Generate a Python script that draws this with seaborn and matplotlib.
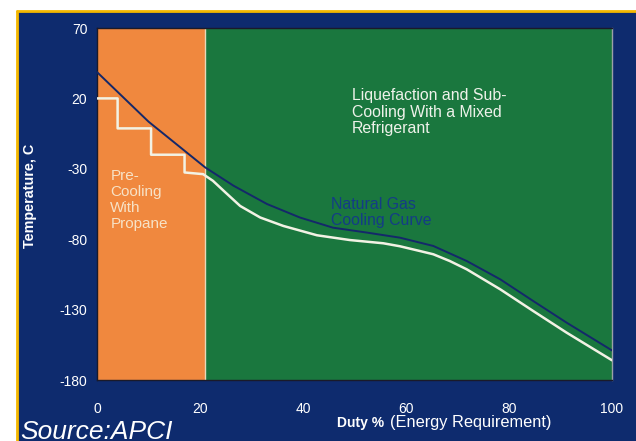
import matplotlib
matplotlib.use("Agg")
import matplotlib.pyplot as plt
import seaborn as sns
import pandas as pd
from matplotlib.patches import Rectangle
from matplotlib.lines import Line2D

# ---- data ----
x_ticks = [0, 20, 40, 60, 80, 100]
y_ticks = [70, 20, -30, -80, -130, -180]

precool_end = 21

gas_duty = [0, 10, 21, 26.5, 33, 39.4, 45.8, 52.4, 58.8, 65.3, 71.8, 78.3, 84.7, 91.2, 100]
gas_temp = [38.7, 3.5, -29, -42, -55, -64.6, -71.8, -75.3, -78.9, -84.8, -95.5, -108.5, -123.9, -139.3, -159]

ref_duty = [0, 4, 4, 10.5, 10.5, 17, 17, 20.6, 22.5, 25, 27.8, 31.7, 36.2, 42.7, 49.1, 55.6, 58.8,
            62.7, 65.3, 68.5, 71.8, 78.3, 84.7, 91.2, 100]
ref_temp = [20, 20, -1.3, -1.3, -20, -20, -32.6, -33.8, -38.5, -47, -56.4, -64.6, -70.6, -77.2, -80.6,
            -82.9, -85, -88.4, -90.7, -95.5, -101.4, -115.6, -131, -146.4, -166]

# ---- style ----
sns.set_style("white")
plt.rcParams['font.family'] = ['Liberation Sans', 'DejaVu Sans']
plt.rcParams['axes.unicode_minus'] = False

NAVY = '#0e2b6e'
ORANGE = '#f0883e'
GREEN = '#1a773e'
GOLD = '#f5b800'

W, H = 636, 441
fig = plt.figure(figsize=(W / 100, H / 100), dpi=100, facecolor='white')

# navy background with gold border on top/left
fig.patches.append(Rectangle((17 / W, 0), 1 - 17 / W, (H - 11) / H, transform=fig.transFigure,
                             facecolor=NAVY, edgecolor='none', zorder=-10))
fig.lines.append(Line2D([17 / W, 17 / W], [0, (H - 11) / H], transform=fig.transFigure,
                        color=GOLD, lw=2, zorder=-5))
fig.lines.append(Line2D([17 / W, 1], [(H - 11) / H, (H - 11) / H], transform=fig.transFigure,
                        color=GOLD, lw=2, zorder=-5))

ax = fig.add_axes([97 / W, (H - 380) / H, (612 - 97) / W, (380 - 28) / H])
ax.set_facecolor(GREEN)
ax.set_xlim(0, 100)
ax.set_ylim(-180, 70)

ax.axvspan(0, precool_end, color=ORANGE, zorder=0, lw=0)
ax.axvline(precool_end, color='#e8d9b8', lw=1, zorder=1)

gas = pd.DataFrame({'duty': gas_duty, 'temp': gas_temp})
ref = pd.DataFrame({'duty': ref_duty, 'temp': ref_temp})
sns.lineplot(data=ref, x='duty', y='temp', ax=ax, color='#f2f2e4', lw=1.8,
             estimator=None, sort=False, zorder=3)
sns.lineplot(data=gas, x='duty', y='temp', ax=ax, color='#14286a', lw=1.4,
             estimator=None, sort=False, zorder=4)

ax.set_xticks(x_ticks)
ax.set_yticks(y_ticks)
ax.tick_params(axis='x', colors='#1a1a3a', labelcolor='white', length=3, pad=13, labelsize=10)
ax.tick_params(axis='y', length=0, pad=7, labelcolor='white', labelsize=10)
ax.set_xlabel('')
ax.set_ylabel('')
for s in ax.spines.values():
    s.set_color('#1a1a2a')
    s.set_linewidth(1)
ax.spines['right'].set_color('#9aa0a8')

# annotations
ax.text(2.6, -30, 'Pre-\nCooling\nWith\nPropane', color='#f7e2c6', fontsize=11,
        ha='left', va='top', linespacing=1.2, zorder=5)
ax.text(49.5, 27.5, 'Liquefaction and Sub-\nCooling With a Mixed\nRefrigerant', color='#eef2ea',
        fontsize=11.4, ha='left', va='top', linespacing=1.15, zorder=5)
ax.text(45.5, -50.3, 'Natural Gas\nCooling Curve', color='#143c86', fontsize=11.4,
        ha='left', va='top', linespacing=1.05, zorder=5)

fig.text(30 / W, 1 - 196 / H, 'Temperature, C', rotation=90, color='white', fontsize=10.4,
         fontweight='bold', ha='center', va='center')
fig.text(384 / W, 1 - 423 / H, 'Duty %', color='white', fontsize=10, fontweight='bold',
         ha='right', va='center')
fig.text(390 / W, 1 - 423 / H, '(Energy Requirement)', color='white', fontsize=11.8,
         ha='left', va='center')
fig.text(20 / W, 1 - 439 / H, 'Source:APCI', color='white', fontsize=19, style='italic',
         ha='left', va='baseline')

fig.savefig('out.png', dpi=100, facecolor='white')
